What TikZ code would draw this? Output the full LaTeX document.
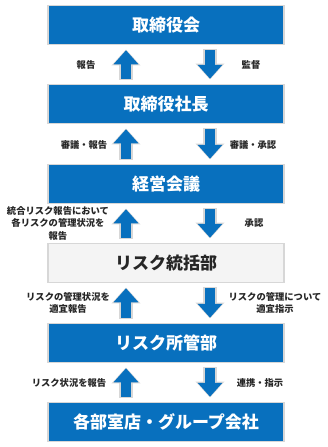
\documentclass[tikz,border=0pt]{standalone}
\usepackage{fontspec}
\setmainfont{Noto Sans CJK JP}
\usetikzlibrary{arrows.meta}
\definecolor{riskblue}{RGB}{8,112,190}
\definecolor{rimgray}{RGB}{215,215,215}

\tikzset{
  bluebox/.style={draw=rimgray, line width=1.5pt, fill=riskblue, text=white,
    minimum width=236pt, minimum height=39pt, inner sep=0pt,
    font=\bfseries\fontsize{17}{20}\selectfont},
  graybox/.style={bluebox, fill=gray!9, text=black!85},
  lbl/.style={font=\bfseries\fontsize{9.3}{12.5}\selectfont, text=black!85, inner sep=0pt},
  rim/.style={rimgray, line width=13.5pt, shorten <=4.2pt, shorten >=4.2pt,
    -{Triangle[width=28pt,length=16pt]}},
  blk/.style={riskblue, line width=10.5pt, shorten <=5pt, shorten >=5pt,
    -{Triangle[width=24pt,length=14pt]}},
}

\begin{document}
\begin{tikzpicture}[x=1pt, y=-1pt]
    \useasboundingbox (0,0) rectangle (327,447);
    % boxes
    \node[bluebox] (b1) at (166,25)  {取締役会};
    \node[bluebox] (b2) at (166,104) {取締役社長};
    \node[bluebox] (b3) at (166,184) {経営会議};
    \node[graybox] (b4) at (166,263) {リスク統括部};
    \node[bluebox] (b5) at (166,343) {リスク所管部};
    \node[bluebox] (b6) at (166,422) {各部室店・グループ会社};
    % arrows between boxes
    \foreach \up/\dn in {b1/b2, b2/b3, b3/b4, b4/b5, b5/b6} {
        \draw[rim] ([xshift=-40pt]\dn.north) -- ([xshift=-40pt]\up.south);
        \draw[blk] ([xshift=-40pt]\dn.north) -- ([xshift=-40pt]\up.south);
        \draw[rim] ([xshift=44pt]\up.south) -- ([xshift=44pt]\dn.north);
        \draw[blk] ([xshift=44pt]\up.south) -- ([xshift=44pt]\dn.north);
    }
    % labels
    \node[lbl] (l1) at (86,65)  {報告};
    \node[lbl] (r1) at (251,65) {監督};
    \node[lbl] (l2) at (84,145) {審議・報告};
    \node[lbl] (r2) at (253,145) {審議・承認};
    \node[lbl, align=center] (l3) at (58,223) {統合リスク報告において\\各リスクの管理状況を\\報告};
    \node[lbl] (r3) at (254,223) {承認};
    \node[lbl, align=center] (l4) at (68,303) {リスクの管理状況を\\適宜報告};
    \node[lbl, align=center] (r4) at (275,303) {リスクの管理について\\適宜指示};
    \node[lbl] (l5) at (69,383) {リスク状況を報告};
    \node[lbl] (r5) at (260,383) {連携・指示};
\end{tikzpicture}
\end{document}
